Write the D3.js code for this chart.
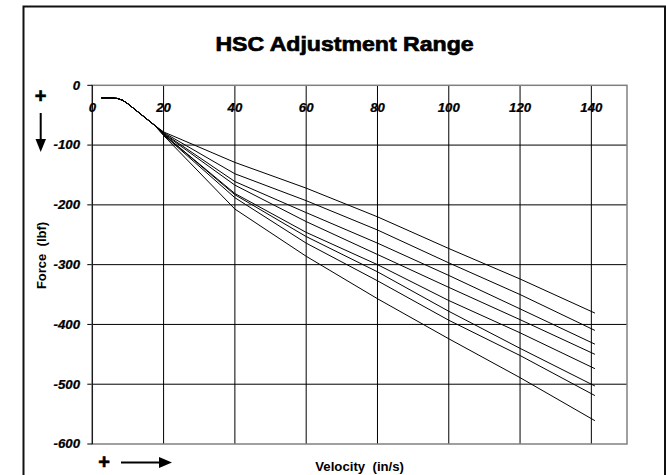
<!DOCTYPE html>
<html>
<head>
<meta charset="utf-8">
<script src="https://cdn.jsdelivr.net/npm/d3@7"></script>
<style>
  body { margin: 0; background: #fff; }
  text { font-family: "Liberation Sans", Arial, sans-serif; }
</style>
</head>
<body>
<div id="chart"></div>
<script>
// velocity points (in/s) shared by every curve
const velocity = [2.5, 5, 7, 8.5, 10, 12.5, 15, 17.5, 20, 40, 60, 80, 100, 120, 141];
// common start of all curves, 2.5 .. 17.5 in/s (lbf)
const startForce = [-21, -21, -22, -25, -31, -43, -55, -67];
// each adjustment setting, force at 20, 40, 60, 80, 100, 120, 141 in/s
const setting1 = [-78, -129, -172, -220, -273, -324, -381];
const setting2 = [-79, -148, -193, -242, -297, -350, -410];
const setting3 = [-80, -161, -213, -264, -318, -374, -433];
const setting4 = [-81, -167, -228, -283, -338, -392, -450];
const setting5 = [-82, -181, -246, -300, -360, -414, -474];
const setting6 = [-82, -183, -253, -312, -378, -440, -503];
const setting7 = [-83, -188, -264, -327, -393, -452, -519];
const setting8 = [-84, -207, -286, -357, -424, -489, -561];

const xTicks = [0, 20, 40, 60, 80, 100, 120, 140];
const yTicks = [0, -100, -200, -300, -400, -500, -600];

function drawChart() {
    var settings = [setting1, setting2, setting3, setting4, setting5, setting6, setting7, setting8];
    var width = 666, height = 475;

    var svg = d3.select("#chart").append("svg")
        .attr("width", width)
        .attr("height", height);

    var x = d3.scaleLinear().domain([0, 150]).range([92.3, 627]);
    var y = d3.scaleLinear().domain([-600, 0]).range([444, 85.3]);

    // outer chart border (runs off the bottom of the picture)
    svg.append("rect")
        .attr("x", 23.5).attr("y", 6.5)
        .attr("width", 641.5).attr("height", 520)
        .attr("fill", "none")
        .attr("stroke", "#111")
        .attr("stroke-width", 2);

    // title, heavy and slightly wide like the original
    svg.append("text")
        .attr("transform", "translate(344.5,51) scale(1.1,1)")
        .attr("text-anchor", "middle")
        .style("font-size", "21px")
        .style("font-weight", "bold")
        .attr("stroke", "#000")
        .attr("stroke-width", 0.7)
        .text("HSC Adjustment Range");

    // vertical grid lines
    svg.selectAll(".vgrid")
        .data(xTicks.filter(function(d) { return d > 0; }))
        .enter().append("line")
        .attr("class", "vgrid")
        .attr("x1", function(d) { return x(d); })
        .attr("x2", function(d) { return x(d); })
        .attr("y1", y(0)).attr("y2", y(-600))
        .attr("stroke", "#000").attr("stroke-width", 1);

    // horizontal grid lines with short ticks outside the axis
    svg.selectAll(".hgrid")
        .data(yTicks.filter(function(d) { return d < 0 && d > -600; }))
        .enter().append("line")
        .attr("class", "hgrid")
        .attr("x1", x(0) - 5).attr("x2", x(150))
        .attr("y1", function(d) { return y(d); })
        .attr("y2", function(d) { return y(d); })
        .attr("stroke", "#000").attr("stroke-width", 1);

    // plot area frame
    svg.append("rect")
        .attr("x", x(0)).attr("y", y(0))
        .attr("width", x(150) - x(0))
        .attr("height", y(-600) - y(0))
        .attr("fill", "none")
        .attr("stroke", "#808080")
        .attr("stroke-width", 1.5);

    // value axis line and end ticks
    svg.append("line")
        .attr("x1", x(0)).attr("x2", x(0))
        .attr("y1", y(0)).attr("y2", y(-600))
        .attr("stroke", "#000").attr("stroke-width", 1);
    svg.selectAll(".endtick")
        .data([0, -600])
        .enter().append("line")
        .attr("x1", x(0) - 5).attr("x2", x(0))
        .attr("y1", function(d) { return y(d); })
        .attr("y2", function(d) { return y(d); })
        .attr("stroke", "#000");

    // y tick labels
    svg.selectAll(".ylab")
        .data(yTicks)
        .enter().append("text")
        .attr("class", "ylab")
        .attr("transform", function(d) { return "translate(80," + (y(d) + 4.3) + ") scale(1.1,1)"; })
        .attr("text-anchor", "end")
        .style("font-size", "12px")
        .style("font-weight", "bold")
        .style("font-style", "italic")
        .attr("stroke", "#000").attr("stroke-width", 0.25)
        .text(function(d) { return d; });

    // x tick labels, sitting under the zero line
    svg.selectAll(".xlab")
        .data(xTicks)
        .enter().append("text")
        .attr("class", "xlab")
        .attr("transform", function(d) { return "translate(" + x(d) + ",111.5) scale(1.1,1)"; })
        .attr("text-anchor", "middle")
        .style("font-size", "12px")
        .style("font-weight", "bold")
        .style("font-style", "italic")
        .attr("stroke", "#000").attr("stroke-width", 0.25)
        .text(function(d) { return d; });

    // curves
    var line = d3.line()
        .x(function(d) { return x(d[0]); })
        .y(function(d) { return y(d[1]); });

    svg.selectAll(".curve")
        .data(settings)
        .enter().append("path")
        .attr("class", "curve")
        .attr("d", function(s) {
            var forces = startForce.concat(s);
            return line(velocity.map(function(v, i) { return [v, forces[i]]; }));
        })
        .attr("fill", "none")
        .attr("stroke", "#000")
        .attr("stroke-width", 1);

    // axis titles
    svg.append("text")
        .attr("transform", "translate(" + ((x(0) + x(150)) / 2) + ",471) scale(1.1,1)")
        .attr("text-anchor", "middle")
        .style("font-size", "12px")
        .style("font-weight", "bold")
        .style("white-space", "pre")
        .text("Velocity  (in/s)");

    svg.append("text")
        .attr("transform", "translate(46,255.5) rotate(-90)")
        .attr("text-anchor", "middle")
        .style("font-size", "13px")
        .style("font-weight", "bold")
        .style("white-space", "pre")
        .text("Force  (lbf)");

    // direction markers: "+" with arrows
    svg.append("text")
        .attr("x", 40.7).attr("y", 103)
        .attr("text-anchor", "middle")
        .style("font-size", "20px")
        .style("font-weight", "bold")
        .attr("stroke", "#000").attr("stroke-width", 0.6)
        .text("+");
    svg.append("line")
        .attr("x1", 40.7).attr("x2", 40.7)
        .attr("y1", 113).attr("y2", 141)
        .attr("stroke", "#000").attr("stroke-width", 2);
    svg.append("path")
        .attr("d", "M35.5,139L46,139L40.7,152Z")
        .attr("fill", "#000");

    svg.append("text")
        .attr("x", 104).attr("y", 469)
        .attr("text-anchor", "middle")
        .style("font-size", "20px")
        .style("font-weight", "bold")
        .attr("stroke", "#000").attr("stroke-width", 0.6)
        .text("+");
    svg.append("line")
        .attr("x1", 121).attr("x2", 161)
        .attr("y1", 462.5).attr("y2", 462.5)
        .attr("stroke", "#000").attr("stroke-width", 2);
    svg.append("path")
        .attr("d", "M159,457L172,462.5L159,468Z")
        .attr("fill", "#000");
}

drawChart();
</script>
</body>
</html>
